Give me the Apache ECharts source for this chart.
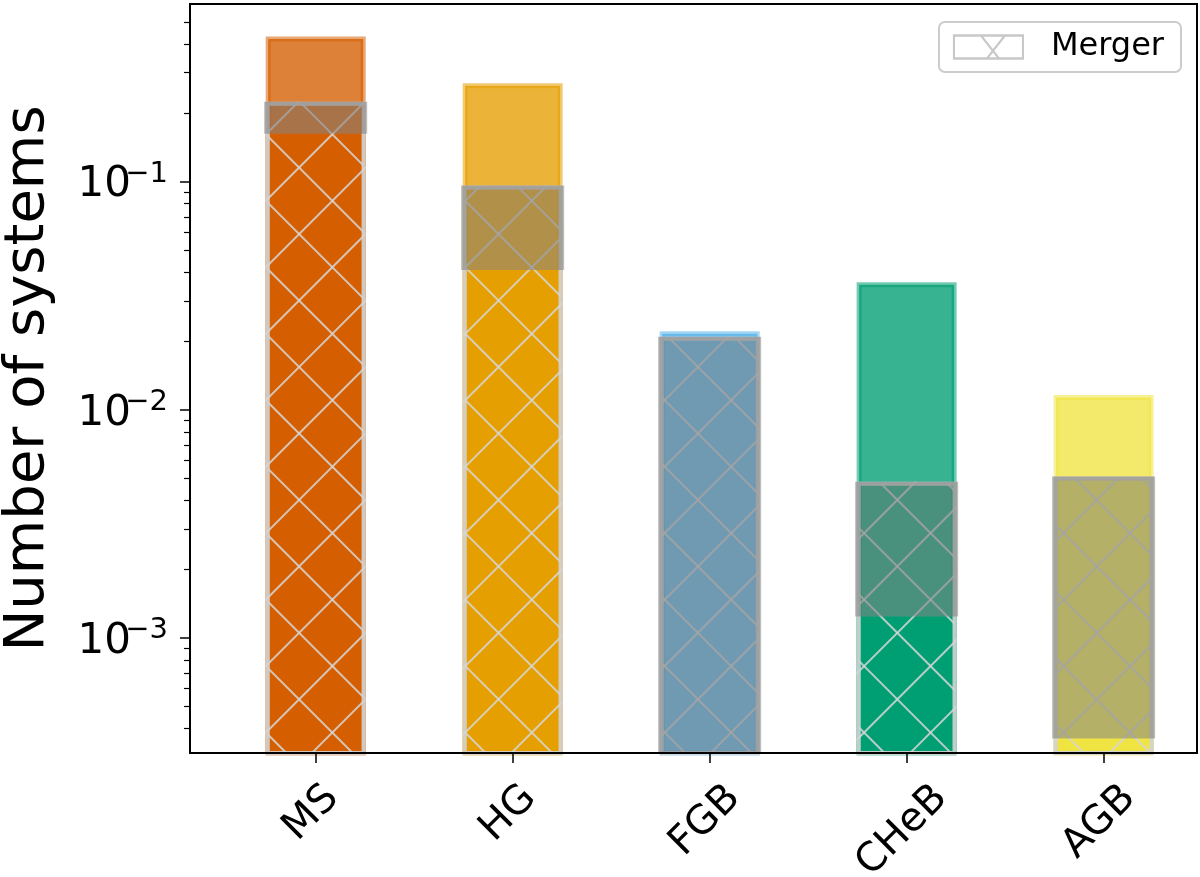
<!DOCTYPE html>
<html>
<head>
<meta charset="utf-8">
<title>Number of systems</title>
<script src="https://cdn.jsdelivr.net/npm/echarts@6/dist/echarts.min.js"></script>
<style>
	html, body { margin: 0; padding: 0; background: #fff; }
	#chart { width: 1200px; height: 877px; }
</style>
</head>
<body>
<div id="chart"></div>
<script>
	// stellar types
	var categories = ['MS', 'HG', 'FGB', 'CHeB', 'AGB'];
	// all systems (light bars)
	var totalValues = [0.432, 0.270, 0.0221, 0.0362, 0.0116];
	// mergers (hatched bars)
	var mergerValues = [0.224, 0.096, 0.0209, 0.00483, 0.0051];
	// solid part at the bottom of each bar (none for FGB)
	var solidValues = [0.162, 0.041, null, 0.00124, 0.000362];
	var barColors = ['#D55E00', '#E69F00', '#56B4E9', '#009E73', '#F0E442'];
	// y tick labels (10^-3, 10^-2, 10^-1)
	var yTickValues = [0.001, 0.01, 0.1];
	var xTickValues = [0, 1, 2, 3, 4];

	var Y_MIN = 3.13e-4, Y_MAX = 0.6;
	var X_MIN = -0.638, X_MAX = 4.474;
	var FONT = 'DejaVu Sans';

	function rgba(hex, a) {
		var n = parseInt(hex.slice(1), 16);
		return 'rgba(' + (n >> 16 & 255) + ',' + (n >> 8 & 255) + ',' + (n & 255) + ',' + a + ')';
	}

	// minor ticks 2..9 of every decade
	var minorTicks = [];
	for (var d = -4; d <= 0; d++) {
		for (var k = 2; k <= 9; k++) {
			var v = k * Math.pow(10, d);
			if (v >= Y_MIN && v <= Y_MAX * 1.0001) minorTicks.push(v);
		}
	}

	// rotated x labels: push longer ones down so their tops line up
	var ctx = document.createElement('canvas').getContext('2d');
	ctx.font = '40px "' + FONT + '"';
	var w0 = ctx.measureText(categories[0]).width;
	var xRich = {};
	categories.forEach(function (c, i) {
		var p = Math.max(0, (ctx.measureText(c).width - w0) / 2);
		xRich['c' + i] = { fontSize: 40, fontFamily: FONT, color: '#000', padding: [p, p + 12, 0, 0] };
	});

	var hatchUp = {
		symbol: 'rect', symbolSize: 1,
		dashArrayX: [1, 0], dashArrayY: [2, 45],
		rotation: Math.PI / 4,
		color: 'rgba(214,214,214,0.85)'
	};
	var hatchDown = Object.assign({}, hatchUp, { rotation: -Math.PI / 4 });

	var chart = echarts.init(document.getElementById('chart'));
	chart.setOption({
		animation: false,
		grid: [
			{ left: 190, top: 4, width: 1007, height: 749, outerBoundsMode: 'none', show: true, borderColor: '#000', borderWidth: 2 },
			// same box again: minor ticks and the exponents of the tick labels
			{ left: 190, top: 4, width: 1007, height: 749, outerBoundsMode: 'none' }
		],
		legend: {
			data: [{
				name: 'Merger',
				icon: 'path://M0,0H69V23H0Z M27,0L45,23 M51,0L33,23',
				itemStyle: { color: 'rgba(0,0,0,0)', borderColor: '#c8c8c8', borderWidth: 2, decal: { color: 'rgba(0,0,0,0)' } }
			}],
			selectedMode: false,
			right: 19,
			top: 22,
			padding: [9, 17, 9, 14],
			itemWidth: 69,
			itemHeight: 23,
			backgroundColor: '#fff',
			borderColor: '#cccccc',
			borderWidth: 2,
			borderRadius: 6,
			textStyle: { fontSize: 32, fontFamily: FONT, color: '#000', padding: [0, 0, 0, 23] }
		},
		xAxis: [{
			type: 'value',
			gridIndex: 0,
			min: X_MIN,
			max: X_MAX,
			z: 10,
			splitLine: { show: false },
			axisLine: { show: true, onZero: false, lineStyle: { color: '#000', width: 2 } },
			axisTick: { show: true, customValues: xTickValues, length: 10, lineStyle: { color: '#000', width: 1.5 } },
			axisLabel: {
				customValues: xTickValues,
				rotate: 45,
				align: 'center',
				verticalAlign: 'middle',
				margin: 56,
				formatter: function (v) {
					var i = Math.round(v);
					return '{c' + i + '|' + categories[i] + '}';
				},
				rich: xRich
			}
		}, {
			type: 'value',
			gridIndex: 1,
			min: X_MIN,
			max: X_MAX,
			show: false,
			axisLine: { onZero: false }
		}],
		yAxis: [{
			type: 'log',
			gridIndex: 0,
			min: Y_MIN,
			max: Y_MAX,
			startValue: Y_MIN / 10,
			z: 10,
			name: 'Number of systems',
			nameLocation: 'middle',
			nameGap: 134,
			nameTextStyle: { fontSize: 56, fontFamily: FONT, color: '#000' },
			splitLine: { show: false },
			axisLine: { show: true, onZero: false, lineStyle: { color: '#000', width: 2 } },
			axisTick: { show: true, customValues: yTickValues, length: 10, lineStyle: { color: '#000', width: 1.5 } },
			axisLabel: {
				customValues: yTickValues,
				margin: 59,
				formatter: function () { return '{b|10}'; },
				rich: {
					b: { fontSize: 42, fontFamily: FONT, color: '#000', padding: [8, 0, 0, 0] }
				}
			}
		}, {
			type: 'log',
			gridIndex: 1,
			min: Y_MIN,
			max: Y_MAX,
			position: 'left',
			splitLine: { show: false },
			axisLine: { show: false, onZero: false },
			axisTick: { show: true, customValues: minorTicks, length: 6, lineStyle: { color: '#000', width: 1.2 } },
			axisLabel: {
				// exponent, raised above the tick
				customValues: yTickValues,
				margin: 22,
				formatter: function (v) {
					var e = Math.round(Math.log10(v));
					return '{e|' + (e < 0 ? '\u2212' + (-e) : String(e)) + '}';
				},
				rich: {
					e: { fontSize: 29, fontFamily: FONT, color: '#000', padding: [0, 0, 14, 0] }
				}
			}
		}],
		series: [
			{
				name: 'All',
				type: 'bar',
				barWidth: 100,
				barGap: '-100%',
				data: totalValues.map(function (v, i) {
					return { value: [i, v], itemStyle: { color: rgba(barColors[i], 0.78), borderColor: rgba(barColors[i], 0.55), borderWidth: 5 } };
				})
			},
			{
				name: 'Solid',
				type: 'bar',
				barWidth: 100,
				barGap: '-100%',
				data: solidValues.map(function (v, i) {
					return { value: [i, v == null ? '-' : v], itemStyle: { color: barColors[i] } };
				})
			},
			{
				name: 'Merger',
				type: 'bar',
				barWidth: 100,
				barGap: '-100%',
				itemStyle: { color: 'rgba(0,0,0,0)', borderColor: 'rgba(211,211,211,0.7)', borderWidth: 4, decal: hatchUp },
				data: mergerValues.map(function (v, i) { return [i, v]; })
			},
			{
				name: 'Merger hatch',
				type: 'bar',
				barWidth: 100,
				barGap: '-100%',
				itemStyle: { color: 'rgba(0,0,0,0)', decal: hatchDown },
				data: mergerValues.map(function (v, i) { return [i, v]; })
			},
			{
				// grey veil over the merger part above the solid bar
				name: 'Merger veil',
				type: 'custom',
				z: 3,
				clip: true,
				dimensions: ['pos', 'top', 'low'],
				encode: { x: 'pos', y: ['top', 'low'] },
				data: mergerValues.map(function (v, i) {
					return [i, v, solidValues[i] != null ? solidValues[i] : Y_MIN];
				}),
				renderItem: function (params, api) {
					var top = api.coord([api.value(0), api.value(1)]);
					var low = api.coord([api.value(0), api.value(2)]);
					var w = 103;
					return {
						type: 'rect',
						shape: { x: top[0] - w / 2, y: top[1], width: w, height: low[1] - top[1] },
						style: { fill: 'rgba(96,96,96,0.42)' }
					};
				}
			}
		]
	});
</script>
</body>
</html>
